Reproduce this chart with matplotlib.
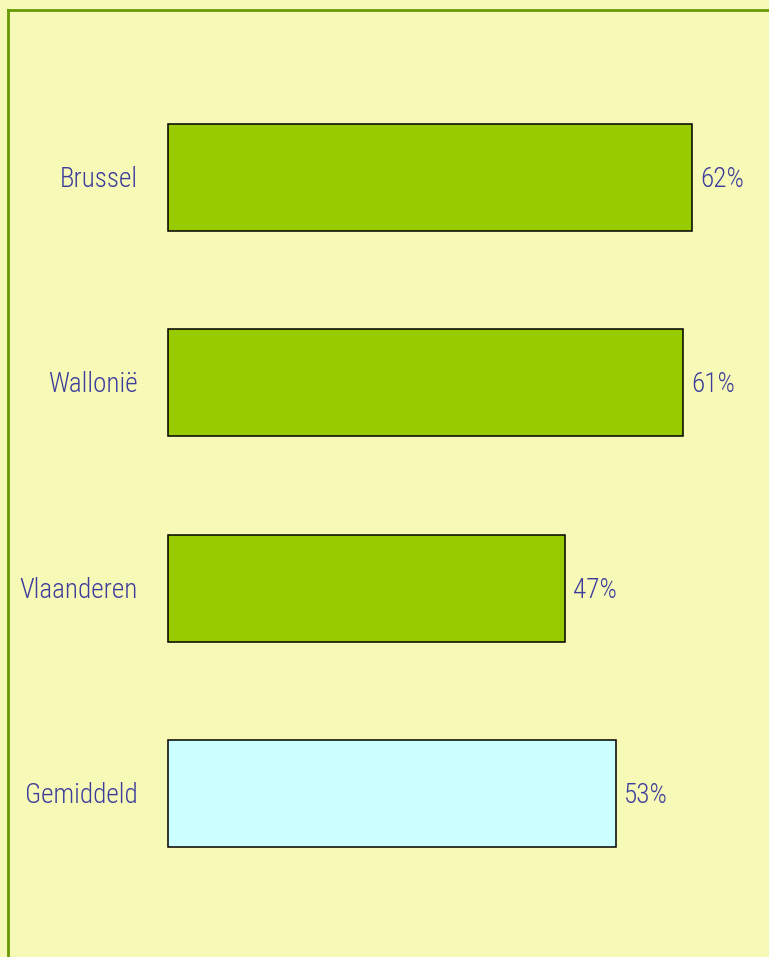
import matplotlib.pyplot as plt

regions = ['Brussel', 'Wallonië', 'Vlaanderen', 'Gemiddeld']
values = [62, 61, 47, 53]
colors = ['#99CC00', '#99CC00', '#99CC00', '#CCFFFF']

bg = '#F7F9B7'
txt = '#3D3D9C'
W, H = 769, 957

plt.rcParams['font.family'] = ['DejaVu Sans Condensed', 'Liberation Sans Narrow',
                               'Roboto Condensed', 'DejaVu Sans']

fig = plt.figure(figsize=(W / 100, H / 100), dpi=100)
fig.patch.set_facecolor(bg)

# border: only top and left edges visible
fig.add_artist(plt.Line2D([8 / W, 8 / W], [0, 1 - 10 / H], color='#669900', lw=2,
                          transform=fig.transFigure))
fig.add_artist(plt.Line2D([8 / W, 1], [1 - 10 / H, 1 - 10 / H], color='#669900', lw=2,
                          transform=fig.transFigure))

left = 168 / W
ax = fig.add_axes([left, 0, 1 - left, 1 - 10 / H])
ax.set_facecolor('none')
scale = 8.45  # px per percent
ax.set_xlim(0, (W - 168) / scale)
ax.set_ylim(3.796, -0.8157)

y = range(len(regions))
bars = ax.barh(y, values, height=0.521, color=colors, edgecolor='black', linewidth=1.1)
for b in bars:
    b.set_clip_on(False)

dy = 2 / 205.3
for i, (r, v) in enumerate(zip(regions, values)):
    ax.text(-30 / scale, i + dy, r, ha='right', va='center', color=txt, fontsize=19.5,
            fontweight='light')
    ax.text(v + 8 / scale, i + dy, f'{v}%', ha='left', va='center', color=txt,
            fontsize=19.5, fontweight='light')

ax.axis('off')
fig.savefig('out.png', dpi=100, facecolor=bg)
